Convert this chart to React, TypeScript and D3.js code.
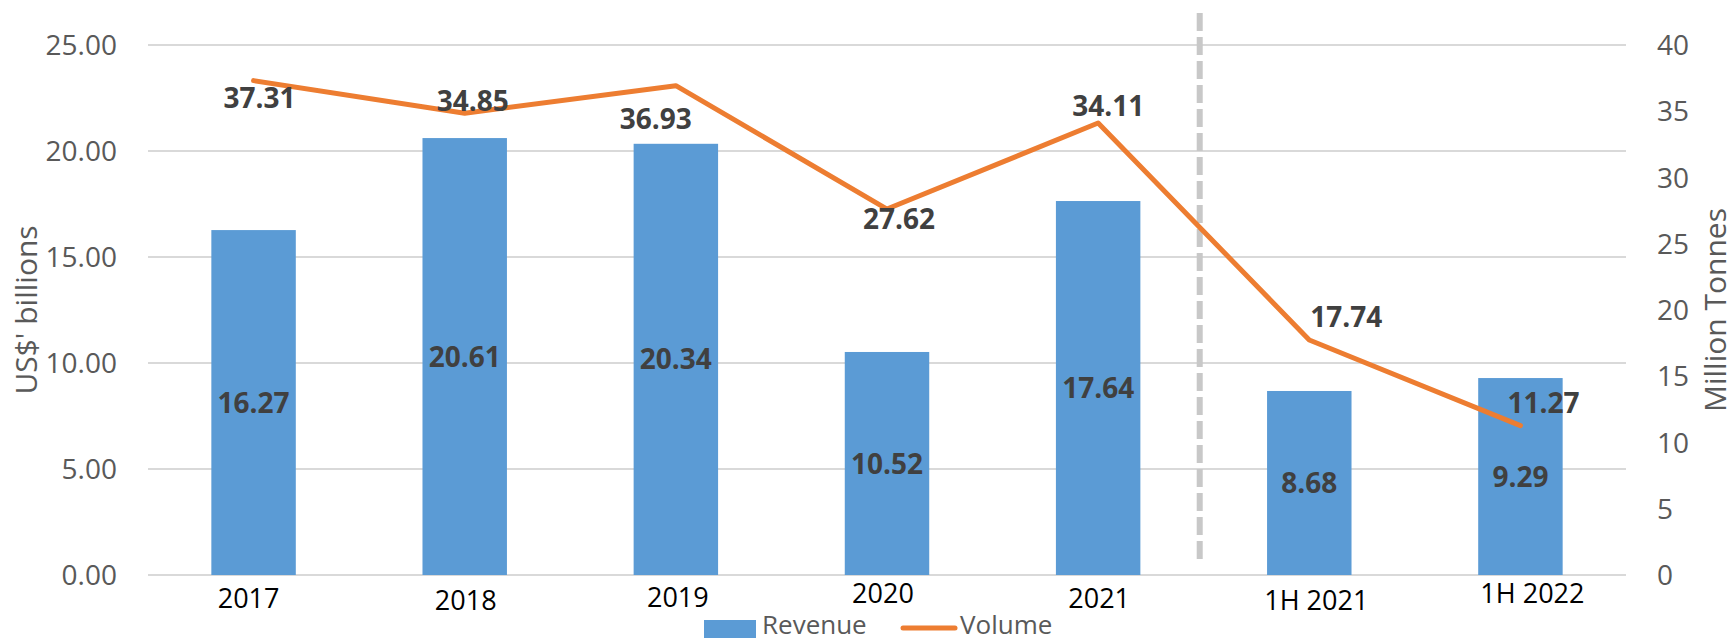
import React from "react";
import * as d3 from "d3";

const categories = ["2017", "2018", "2019", "2020", "2021", "1H 2021", "1H 2022"];
const revenue = [16.27, 20.61, 20.34, 10.52, 17.64, 8.68, 9.29];
const volume = [37.31, 34.85, 36.93, 27.62, 34.11, 17.74, 11.27];
const revenueTicks = [0, 5, 10, 15, 20, 25];
const volumeTicks = [0, 5, 10, 15, 20, 25, 30, 35, 40];
const seriesNames = ["Revenue", "Volume"];
const axisTitles = ["US$' billions", "Million Tonnes"];

// label nudges (pixels) – styling only
const volLabelNudge = [[6, 17], [8, -12], [-20, 33], [12, 10], [10, -17], [37, -23], [23, -23]];
const catLabelNudge = [[-5, 1], [1, 3], [2, 0], [-4, -4], [1, 1], [7, 3], [12, -4]];

const W = 1736;
const H = 642;
const M = { left: 148, right: 1626, top: 45, bottom: 575 };
const BAR = "#5B9BD5";
const LINE = "#ED7D31";
const GRID = "#D9D9D9";
const FONT = "'Open Sans', 'Noto Sans', sans-serif";

export default function App() {
  const x = d3
    .scaleBand<string>()
    .domain(categories)
    .range([M.left, M.right])
    .paddingInner(0.6)
    .paddingOuter(0.3);
  const bw = x.bandwidth();
  const yL = d3.scaleLinear().domain([0, 25]).range([M.bottom, M.top]);
  const yR = d3.scaleLinear().domain([0, 40]).range([M.bottom, M.top]);
  const cx = (c: string) => (x(c) as number) + bw / 2;

  const line = d3
    .line<number>()
    .x((_, i) => cx(categories[i]))
    .y((d) => yR(d));

  const divX = ((x("2021") as number) + bw + (x("1H 2021") as number)) / 2 - 4;

  return (
    <svg
      width={W}
      height={H}
      style={{ position: "absolute", left: 0, top: 0, background: "#fff" }}
      fontFamily={FONT}
    >
      {/* gridlines */}
      {revenueTicks.map((t) => (
        <line key={"g" + t} x1={M.left} x2={M.right} y1={yL(t)} y2={yL(t)} stroke={GRID} strokeWidth={2} />
      ))}
      {/* left tick labels */}
      {revenueTicks.map((t) => (
        <text key={"l" + t} x={117} y={yL(t)} dy="0.36em" textAnchor="end" fontSize={28} fill="#595959">
          {t.toFixed(2)}
        </text>
      ))}
      {/* right tick labels */}
      {volumeTicks.map((t) => (
        <text key={"r" + t} x={1657} y={yR(t)} dy="0.36em" textAnchor="start" fontSize={28} fill="#595959">
          {t}
        </text>
      ))}
      {/* axis titles */}
      <text
        transform={`translate(26, ${(M.top + M.bottom) / 2}) rotate(-90)`}
        textAnchor="middle"
        dy="0.36em"
        fontSize={30}
        fill="#595959"
      >
        {axisTitles[0]}
      </text>
      <text
        transform={`translate(1715, ${(M.top + M.bottom) / 2}) rotate(-90)`}
        textAnchor="middle"
        dy="0.36em"
        fontSize={30}
        fill="#595959"
      >
        {axisTitles[1]}
      </text>
      {/* bars */}
      {categories.map((c, i) => (
        <rect key={"b" + c} x={x(c)} y={yL(revenue[i])} width={bw} height={yL(0) - yL(revenue[i])} fill={BAR} />
      ))}
      {/* divider */}
      <line x1={divX} x2={divX} y1={13} y2={562} stroke="#C8C8C8" strokeWidth={6} strokeDasharray="18 6" />
      {/* line */}
      <path d={line(volume) || ""} fill="none" stroke={LINE} strokeWidth={5} strokeLinejoin="round" strokeLinecap="round" />
      {/* bar labels */}
      {categories.map((c, i) => (
        <text
          key={"bl" + c}
          x={cx(c)}
          y={(yL(revenue[i]) + yL(0)) / 2}
          dy="0.36em"
          textAnchor="middle"
          fontSize={28}
          fontWeight="bold"
          fill="#404040"
        >
          {revenue[i].toFixed(2)}
        </text>
      ))}
      {/* line labels */}
      {categories.map((c, i) => (
        <text
          key={"vl" + c}
          x={cx(c) + volLabelNudge[i][0]}
          y={yR(volume[i]) + volLabelNudge[i][1]}
          dy="0.36em"
          textAnchor="middle"
          fontSize={28}
          fontWeight="bold"
          fill="#404040"
        >
          {volume[i].toFixed(2)}
        </text>
      ))}
      {/* category labels */}
      {categories.map((c, i) => (
        <text
          key={"c" + c}
          x={cx(c) + catLabelNudge[i][0]}
          y={607 + catLabelNudge[i][1]}
          textAnchor="middle"
          fontSize={27}
          fill="#000"
        >
          {c}
        </text>
      ))}
      {/* legend */}
      <rect x={704} y={620} width={52} height={18} fill={BAR} />
      <text x={762} y={634} fontSize={26} fill="#595959">
        {seriesNames[0]}
      </text>
      <line x1={903} x2={955} y1={628} y2={628} stroke={LINE} strokeWidth={5} strokeLinecap="round" />
      <text x={960} y={634} fontSize={26} fill="#595959">
        {seriesNames[1]}
      </text>
    </svg>
  );
}
